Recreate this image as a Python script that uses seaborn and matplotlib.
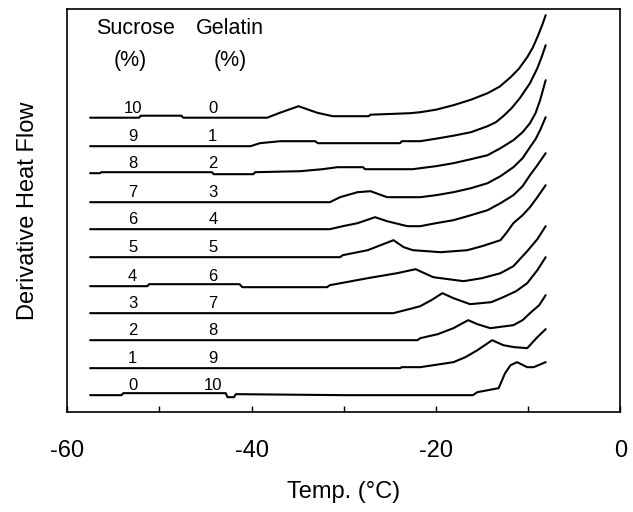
import matplotlib
matplotlib.use('Agg')
import matplotlib.pyplot as plt
import seaborn as sns

# sucrose / gelatin content of each sample, top curve first
sucrose = [10, 9, 8, 7, 6, 5, 4, 3, 2, 1, 0]
gelatin = [0, 1, 2, 3, 4, 5, 6, 7, 8, 9, 10]

# vertical offset of each trace (arbitrary units)
offsets = [294.5, 266, 239, 210, 183, 155, 126, 99, 72, 44, 17]

# traces: temperature (C) and signal above each baseline
t_s10 = [-57.5, -52.2, -52.0, -47.6, -47.4, -38.3, -36.9, -34.9, -32.9, -31.2, -27.3, -27.1,
         -22.8, -21.7, -20.0, -18.1, -16.2, -14.4, -13.1, -11.9, -11.0, -10.1, -9.5, -9.0,
         -8.5, -8.1]
h_s10 = [0, 0, 2, 2, 0, 0, 5, 11.5, 5, 1.5, 1.5, 3,
         4.5, 5.5, 8, 12.5, 18, 24.5, 31, 40.5, 49, 60.5, 70, 80.5,
         92, 102.5]

t_s9 = [-57.5, -40.1, -39.1, -36.9, -33.1, -32.8, -23.9, -23.7, -21.7, -20.0, -18.1, -16.2,
        -14.4, -13.5, -12.7, -11.8, -10.9, -9.8, -9.0, -8.5, -8.1]
h_s9 = [0, 0, 3, 5, 5, 3, 3, 5, 5, 7.5, 10.5, 14,
        20, 24, 30, 38, 48, 63, 78, 90, 101]

t_s8 = [-57.5, -56.4, -56.3, -44.3, -44.1, -39.8, -39.6, -34.7, -32.3, -30.7, -27.9, -27.7,
        -22.5, -21.7, -20.0, -18.1, -16.2, -14.4, -13.0, -11.6, -10.6, -9.8, -9.2, -8.7, -8.1]
h_s8 = [0, 0, 1, 1, -1, -1, 1, 2, 4, 6, 6, 4,
        4, 5, 7, 10, 14, 18, 25, 33, 41, 50, 60, 73, 93]

t_s7 = [-57.5, -31.5, -30.4, -28.5, -27.1, -25.3, -21.7, -20.0, -18.1, -16.2, -14.4, -13.0,
        -11.6, -10.6, -9.8, -9.2, -8.7, -8.1]
h_s7 = [0, 0, 5, 10, 11, 5, 5, 7, 10, 14, 19, 26,
        35, 44, 55, 63, 72, 85]

t_s6 = [-57.5, -31.5, -30.1, -28.5, -26.6, -25.3, -23.1, -21.7, -20.0, -18.1, -16.2, -14.4,
        -13.0, -11.6, -10.6, -9.8, -9.0, -8.1]
h_s6 = [0, 0, 3, 6, 12, 8, 3, 3, 6, 9, 14, 19,
        26, 34, 43, 54, 64, 76]

t_s5 = [-57.5, -30.4, -30.1, -27.4, -24.6, -23.5, -22.5, -19.5, -18.0, -16.6, -15.0, -13.0,
        -12.3, -11.6, -10.6, -9.8, -9.0, -8.1]
h_s5 = [0, 0, 2, 7, 17, 10, 7, 5, 6, 7, 11, 17,
        25, 34, 42, 50, 60, 72]

t_s4 = [-57.5, -51.3, -51.1, -41.3, -41.0, -31.8, -31.5, -27.4, -24.2, -22.2, -20.3, -17.0,
        -15.0, -13.0, -11.6, -10.1, -9.0, -8.1]
h_s4 = [0, 0, 2, 2, -1, -1, 1, 8, 13, 17, 9, 5,
        8, 13, 20, 35, 47, 60]

t_s3 = [-57.5, -24.6, -24.2, -22.5, -21.7, -20.5, -19.3, -18.1, -16.3, -14.0, -12.7, -11.3,
        -10.1, -9.0, -8.1]
h_s3 = [0, 0, 1, 5, 7, 13, 20, 15, 9, 11, 16, 22,
        30, 43, 56]

t_s2 = [-57.5, -22.0, -21.7, -19.8, -18.1, -16.5, -15.5, -14.1, -11.6, -10.6, -9.8, -8.8, -8.1]
h_s2 = [0, 0, 2, 6, 12, 20, 16, 12, 15, 20, 27, 35, 45]

t_s1 = [-57.5, -23.9, -23.7, -21.7, -18.1, -16.8, -15.5, -13.9, -12.7, -11.5, -10.1, -9.0, -8.1]
h_s1 = [0, 0, 1, 1, 6, 11, 18, 28, 23, 21, 20, 31, 39]

t_s0 = [-57.5, -54.1, -53.9, -42.8, -42.6, -41.9, -41.7, -30.0, -16.0, -15.5, -13.2, -12.5,
        -11.9, -11.2, -10.1, -9.4, -8.1]
h_s0 = [0, 0, 2, 2, -2, -2, 1, 0, 0, 3, 7, 22, 30, 33, 28, 28, 33]

temps = [t_s10, t_s9, t_s8, t_s7, t_s6, t_s5, t_s4, t_s3, t_s2, t_s1, t_s0]
signals = [h_s10, h_s9, h_s8, h_s7, h_s6, h_s5, h_s4, h_s3, h_s2, h_s1, h_s0]

sns.set_style('ticks')
plt.rcParams['font.family'] = ['Liberation Sans', 'DejaVu Sans']
plt.rcParams['text.color'] = 'black'
plt.rcParams['axes.labelcolor'] = 'black'
plt.rcParams['xtick.color'] = 'black'

fig = plt.figure(figsize=(6.33, 5.12), dpi=100)
ax = fig.add_axes([0.106, 0.195, 0.874, 0.787])

for t, h, off in zip(temps, signals, offsets):
    y = [v + off for v in h]
    sns.lineplot(x=t, y=y, color='black', linewidth=1.5, ax=ax, sort=False)

# column headers and sample labels
ax.text(-52.6, 384, 'Sucrose', ha='center', va='center', fontsize=15.5)
ax.text(-42.3, 384, 'Gelatin', ha='center', va='center', fontsize=15.5)
ax.text(-53.2, 352, '(%)', ha='center', va='center', fontsize=15.5)
ax.text(-42.3, 352, '(%)', ha='center', va='center', fontsize=15.5)
for s, g, off in zip(sucrose, gelatin, offsets):
    ax.text(-52.9, off + 5, str(s), ha='center', va='baseline', fontsize=12)
    ax.text(-44.2, off + 5, str(g), ha='center', va='baseline', fontsize=12)

ax.set_xlim(-60, 0)
ax.set_ylim(0, 403)
ticks = [-60, -50, -40, -30, -20, -10, 0]
ax.set_xticks(ticks)
ax.set_xticklabels([str(v) if v % 20 == 0 else '' for v in ticks], fontsize=17)
ax.tick_params(axis='x', direction='in', length=4, width=1, pad=20, color='black')
ax.set_yticks([])
for sp in ax.spines.values():
    sp.set_visible(True)
    sp.set_color('black')
    sp.set_linewidth(1.2)

ax.set_xlabel('Temp. (°C)', fontsize=17, labelpad=14)
ax.set_ylabel('Derivative Heat Flow', fontsize=17, labelpad=20)

plt.savefig('out.png', dpi=100)
plt.close()
